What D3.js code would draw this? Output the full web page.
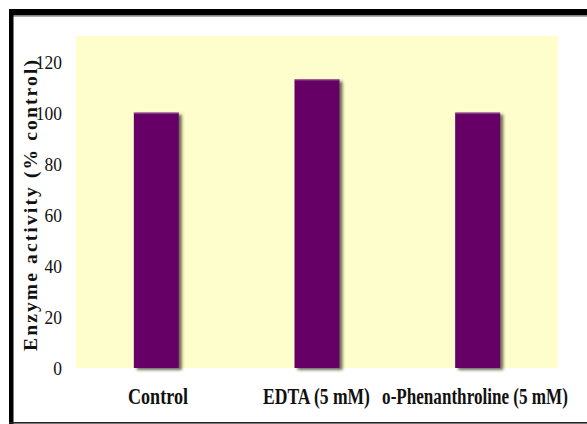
<!DOCTYPE html>
<html>
<head>
<meta charset="utf-8">
<script src="https://cdn.jsdelivr.net/npm/d3@7"></script>
<style>
  html, body { margin: 0; padding: 0; background: #ffffff; }
  svg { display: block; }
  text { font-family: "Liberation Serif", "Times New Roman", serif; fill: #111; }
</style>
</head>
<body>
<div id="chart"></div>
<script>
// Enzyme activity relative to the untreated control
const categories = ["Control", "EDTA (5 mM)", "o-Phenanthroline (5 mM)"];
const activity = [100, 113, 100];
const tickValues = [0, 20, 40, 60, 80, 100, 120];
const yAxisTitle = "Enzyme activity (% control)";

const W = 587, H = 424;
const plot = { left: 76, right: 558, top: 36, bottom: 368 };

const svg = d3.select("#chart").append("svg")
  .attr("width", W).attr("height", H);

// soft shadow behind the bars
const defs = svg.append("defs");
const f = defs.append("filter").attr("id", "barShadow")
  .attr("x", "-30%").attr("y", "-10%").attr("width", "160%").attr("height", "130%");
f.append("feDropShadow")
  .attr("dx", 3).attr("dy", 2).attr("stdDeviation", 1.8)
  .attr("flood-color", "#3a3a20").attr("flood-opacity", 0.75);

// frame
svg.append("rect").attr("x", 9).attr("y", 9).attr("width", W - 9).attr("height", 6.5).attr("fill", "#000");
svg.append("rect").attr("x", 9).attr("y", 15.5).attr("width", W - 9).attr("height", 1.2).attr("fill", "#888");
svg.append("rect").attr("x", 9).attr("y", 9).attr("width", 4.5).attr("height", H - 9).attr("fill", "#000");
svg.append("rect").attr("x", 9).attr("y", 422).attr("width", W - 9).attr("height", 1.6).attr("fill", "#222");

// plot background
svg.append("rect")
  .attr("x", plot.left).attr("y", plot.top)
  .attr("width", plot.right - plot.left).attr("height", plot.bottom - plot.top)
  .attr("fill", "#FEFDCC");

const x = d3.scaleBand()
  .domain(categories)
  .range([plot.left, plot.right])
  .paddingInner(0.72)
  .paddingOuter(0.36);

const y = d3.scaleLinear()
  .domain([0, 130])
  .range([plot.bottom, plot.top]);

// bars
svg.append("g").selectAll("rect")
  .data(categories)
  .join("rect")
  .attr("x", d => x(d))
  .attr("y", (d, i) => y(activity[i]))
  .attr("width", x.bandwidth())
  .attr("height", (d, i) => y(0) - y(activity[i]))
  .attr("fill", "#660066")
  .attr("filter", "url(#barShadow)");

// light top edge on each bar
svg.append("g").selectAll("line")
  .data(categories)
  .join("line")
  .attr("x1", d => x(d)).attr("x2", d => x(d) + x.bandwidth())
  .attr("y1", (d, i) => y(activity[i]) + 0.5)
  .attr("y2", (d, i) => y(activity[i]) + 0.5)
  .attr("stroke", "#a0609a").attr("stroke-width", 1);

// y axis (labels only), slightly condensed digits
const yAxis = d3.axisLeft(y).tickValues(tickValues).tickSize(0).tickPadding(0);
const gy = svg.append("g").attr("transform", "translate(62,0)").call(yAxis);
gy.select(".domain").remove();
gy.selectAll("text")
  .attr("font-family", "Liberation Serif, Times New Roman, serif")
  .attr("font-size", 19)
  .attr("fill", "#111")
  .attr("dy", "0.34em")
  .attr("transform", "scale(0.92,1)");

// x axis labels: bold, horizontally condensed to fit each slot
const labelWidths = { "Control": 60, "EDTA (5 mM)": 107, "o-Phenanthroline (5 mM)": 186 };
const labelCenters = { "Control": 158, "EDTA (5 mM)": 316.5, "o-Phenanthroline (5 mM)": 475 };
svg.append("g").selectAll("text")
  .data(categories)
  .join("text")
  .attr("text-anchor", "middle")
  .attr("font-size", 22.5)
  .attr("font-weight", "bold")
  .text(d => d)
  .each(function (d) {
    const len = this.getComputedTextLength();
    const sx = labelWidths[d] / len;
    d3.select(this).attr("transform", `translate(${labelCenters[d]},404) scale(${sx},1)`);
  });

// y axis title
svg.append("text")
  .attr("transform", "translate(37,351) rotate(-90)")
  .attr("x", 0).attr("y", 0)
  .attr("font-size", 19.5)
  .attr("font-weight", "bold")
  .attr("textLength", 291)
  .attr("lengthAdjust", "spacing")
  .text(yAxisTitle);
</script>
</body>
</html>
